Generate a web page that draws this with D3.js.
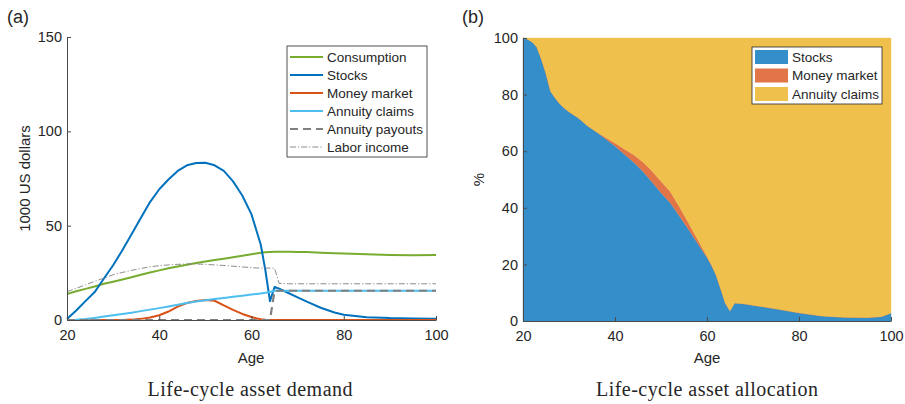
<!DOCTYPE html>
<html>
<head>
<meta charset="utf-8">
<script src="https://cdn.jsdelivr.net/npm/d3@7"></script>
<style>
  body { margin: 0; background: #fff; }
  svg text { font-family: "Liberation Sans", Arial, Helvetica, sans-serif; fill: #262626; }
  svg text.title { font-family: "Liberation Serif", "DejaVu Serif", serif; }
</style>
</head>
<body>
<svg id="fig" width="905" height="404"></svg>
<script>
// ---- Panel (a): life-cycle asset demand, thousands of US dollars ----
const agesA = [20,22,24,26,28,30,32,34,36,38,40,42,44,46,48,50,52,54,56,58,60,
               61,62,63,64,65,66,68,70,72,75,78,80,85,90,95,100];
const consumption = [13.8,15.2,16.5,17.8,19.2,20.3,21.5,22.7,24.0,25.2,26.3,27.4,28.4,29.3,30.2,31.0,31.8,32.5,33.3,34.0,34.8,
                     35.2,35.6,35.9,36.1,36.2,36.2,36.2,36.1,36.0,35.7,35.4,35.2,34.8,34.5,34.3,34.4];
const stocks = [0.5,5,10,14.8,22,29,37,45.5,54,62.5,69.3,74.5,79,82,83.2,83.3,82,79,73.5,66,56,
                48,40,26.5,10,17.5,16.6,14.3,12,9.7,6.5,4,2.8,1.5,1,0.8,0.7];
const moneyMarket = [0,0,0,0,0,0,0.05,0.2,0.6,1.3,2.5,4.5,7.1,9,10.1,10.6,10.2,7.8,5.4,3.2,1.6,
                     0.9,0.4,0.1,0,0,0,0,0,0,0,0,0,0,0,0,0];
const annuityClaims = [0,0.1,0.5,1.1,1.8,2.5,3.2,3.9,4.7,5.5,6.3,7.2,8.1,9.0,9.8,10.5,11.1,11.7,12.3,12.9,13.5,
                       13.8,14.1,14.4,14.8,15.5,15.5,15.5,15.5,15.5,15.5,15.5,15.5,15.5,15.5,15.5,15.5];
const annuityPayouts = [0,0,0,0,0,0,0,0,0,0,0,0,0,0,0,0,0,0,0,0,0,
                        0,0,0,0,15.5,15.5,15.5,15.5,15.5,15.5,15.5,15.5,15.5,15.5,15.5,15.5];
const laborIncome = [15,16.8,18.6,20.5,22.2,24,25.2,26.3,27.3,28.2,28.8,29.2,29.5,29.7,29.7,29.5,29.2,28.9,28.5,28.1,27.8,
                     27.6,27.5,27.5,27.5,27.4,19.4,19.2,19.2,19.2,19.2,19.2,19.2,19.2,19.2,19.2,19.2];
const ageTicks = [20,40,60,80,100];
const dollarTicks = [0,50,100,150];

// ---- Panel (b): life-cycle asset allocation, percent of wealth ----
const agesB = [20,21,22,23,24,25,26,27,28,29,30,32,34,36,38,40,42,44,46,48,50,52,54,56,58,60,
               61,62,63,64,65,66,68,70,75,80,85,90,95,98,100];
const stockShare = [100,99.6,98.6,96.8,92.6,87.5,81.2,78.8,76.8,75.2,73.9,71.8,69.0,66.8,64.3,61.8,59.0,56.2,53.0,49.2,45.3,41.8,37.1,32.3,27.4,22.4,
                    19.6,16.2,11.3,6.3,3.6,6.4,6.1,5.6,4.3,2.9,1.8,1.3,1.2,1.6,2.8];
const moneyShare = [0,0,0,0,0,0,0,0,0,0,0,0,0,0,0.5,1.1,1.8,2.6,3.3,3.9,4.1,4.0,3.3,2.3,1.3,0.5,
                    0.2,0,0,0,0,0,0,0,0,0,0,0,0,0,0];
const annuityShare = [0,0.4,1.4,3.2,7.4,12.5,18.8,21.2,23.2,24.8,26.1,28.2,31.0,33.2,35.2,37.1,39.2,41.2,43.7,46.9,50.6,54.2,59.6,65.4,71.3,77.1,
                      80.2,83.8,88.7,93.7,96.4,93.6,93.9,94.4,95.7,97.1,98.2,98.7,98.8,98.4,97.2];
const pctTicks = [0,20,40,60,80,100];

const svg = d3.select("#fig");
const axisColor = "#4a4a4a";

function styleAxis(g) {
  g.select(".domain").attr("stroke", axisColor).attr("stroke-width", 1);
  g.selectAll(".tick line").attr("stroke", axisColor).attr("stroke-width", 1);
  g.selectAll(".tick text").attr("font-size", "14.5px").attr("fill", "#262626")
    .style("font-family", '"Liberation Sans", Arial, sans-serif');
}

// ================= Panel (a) =================
const xA = d3.scaleLinear().domain([20, 100]).range([67, 436]);
const yA = d3.scaleLinear().domain([0, 150]).range([320, 37]);

const linesA = [
  { name: "Consumption",     values: consumption,    color: "#77AC30", width: 2,   dash: null },
  { name: "Stocks",          values: stocks,         color: "#0072BD", width: 2,   dash: null },
  { name: "Money market",    values: moneyMarket,    color: "#D95319", width: 2,   dash: null },
  { name: "Annuity claims",  values: annuityClaims,  color: "#4DBEEE", width: 2,   dash: null },
  { name: "Annuity payouts", values: annuityPayouts, color: "#808080", width: 2.2, dash: "8,5" },
  { name: "Labor income",    values: laborIncome,    color: "#808080", width: 0.9, dash: "6,2,1.2,2" }
];

const gA = svg.append("g");
const lineA = d3.line().curve(d3.curveLinear);
linesA.forEach(s => {
  gA.append("path")
    .attr("d", lineA(agesA.map((a, i) => [xA(a), yA(s.values[i])])))
    .attr("fill", "none")
    .attr("stroke", s.color)
    .attr("stroke-width", s.width)
    .attr("stroke-linejoin", "round")
    .attr("stroke-dasharray", s.dash);
});

const axA_x = svg.append("g").attr("transform", `translate(0,${yA(0)})`)
  .call(d3.axisBottom(xA).tickValues(ageTicks).tickSizeInner(-4).tickSizeOuter(0).tickPadding(10));
styleAxis(axA_x);
const axA_y = svg.append("g").attr("transform", `translate(${xA(20)},0)`)
  .call(d3.axisLeft(yA).tickValues(dollarTicks).tickSizeInner(-4).tickSizeOuter(0).tickPadding(5));
styleAxis(axA_y);

svg.append("text").attr("x", 251).attr("y", 363).attr("text-anchor", "middle")
  .attr("font-size", "15px").text("Age");
svg.append("text").attr("transform", `translate(30,${(yA(0) + yA(150)) / 2}) rotate(-90)`)
  .attr("text-anchor", "middle").attr("font-size", "15px").text("1000 US dollars");
svg.append("text").attr("x", 7).attr("y", 23).attr("font-size", "18px").text("(a)");
svg.append("text").attr("class", "title").attr("x", 250).attr("y", 396)
  .attr("text-anchor", "middle").attr("font-size", "20px")
  .attr("textLength", 205).attr("lengthAdjust", "spacing").text("Life-cycle asset demand");

// legend (a)
const legA = svg.append("g");
legA.append("rect").attr("x", 287).attr("y", 46).attr("width", 140).attr("height", 111)
  .attr("fill", "#fff").attr("stroke", "#262626").attr("stroke-width", 0.8);
linesA.forEach((s, i) => {
  const cy = 57 + i * 18;
  legA.append("line").attr("x1", 290).attr("x2", 323).attr("y1", cy).attr("y2", cy)
    .attr("stroke", s.color).attr("stroke-width", s.width).attr("stroke-dasharray", s.dash);
  legA.append("text").attr("x", 327).attr("y", cy).attr("dy", "0.35em")
    .attr("font-size", "13.5px").text(s.name);
});

// ================= Panel (b) =================
const xB = d3.scaleLinear().domain([20, 100]).range([523, 891]);
const yB = d3.scaleLinear().domain([0, 100]).range([321, 38]);

const areasB = [
  { key: "Stocks",         values: stockShare,   color: "#338ECA" },
  { key: "Money market",   values: moneyShare,   color: "#E17547" },
  { key: "Annuity claims", values: annuityShare, color: "#F0C04D" }
];
const tableB = agesB.map((a, i) => {
  const row = { age: a };
  areasB.forEach(s => { row[s.key] = s.values[i]; });
  return row;
});
const stacked = d3.stack().keys(areasB.map(s => s.key))(tableB);
const areaB = d3.area()
  .x(d => xB(d.data.age))
  .y0(d => yB(d[0]))
  .y1(d => yB(d[1]))
  .curve(d3.curveLinear);

const gB = svg.append("g");
stacked.forEach((layer, i) => {
  gB.append("path").attr("d", areaB(layer))
    .attr("fill", areasB[i].color)
    .attr("stroke", areasB[i].color).attr("stroke-width", 0.4);
});

const axB_x = svg.append("g").attr("transform", `translate(0,${yB(0)})`)
  .call(d3.axisBottom(xB).tickValues(ageTicks).tickSizeInner(-4).tickSizeOuter(0).tickPadding(10));
styleAxis(axB_x);
const axB_y = svg.append("g").attr("transform", `translate(${xB(20)},0)`)
  .call(d3.axisLeft(yB).tickValues(pctTicks).tickSizeInner(-4).tickSizeOuter(0).tickPadding(5));
styleAxis(axB_y);

svg.append("text").attr("x", 707).attr("y", 363).attr("text-anchor", "middle")
  .attr("font-size", "15px").text("Age");
svg.append("text").attr("transform", `translate(484,${(yB(0) + yB(100)) / 2}) rotate(-90)`)
  .attr("text-anchor", "middle").attr("font-size", "15px").text("%");
svg.append("text").attr("x", 462).attr("y", 23).attr("font-size", "18px").text("(b)");
svg.append("text").attr("class", "title").attr("x", 707).attr("y", 396)
  .attr("text-anchor", "middle").attr("font-size", "20px")
  .attr("textLength", 222).attr("lengthAdjust", "spacing").text("Life-cycle asset allocation");

// legend (b)
const legB = svg.append("g");
legB.append("rect").attr("x", 752).attr("y", 47).attr("width", 130).attr("height", 57)
  .attr("fill", "#fff").attr("stroke", "#262626").attr("stroke-width", 0.8);
areasB.forEach((s, i) => {
  const top = 50 + i * 18.5;
  legB.append("rect").attr("x", 755).attr("y", top).attr("width", 33).attr("height", 14)
    .attr("fill", s.color);
  legB.append("text").attr("x", 792).attr("y", top + 7).attr("dy", "0.35em")
    .attr("font-size", "13.5px").text(s.key);
});
</script>
</body>
</html>
